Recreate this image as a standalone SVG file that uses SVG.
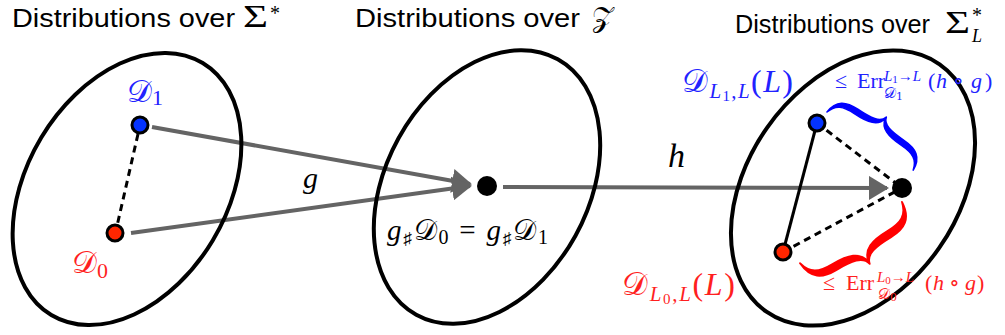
<svg xmlns="http://www.w3.org/2000/svg" width="1005" height="335" viewBox="0 0 1005 335">
<style>
.title{font-family:"Liberation Sans",Arial,sans-serif;font-size:26px;fill:#000}
.m{font-family:"Liberation Serif","DejaVu Serif","DejaVu Sans",serif}
.it{font-style:italic}
.cal{font-family:"DejaVu Serif","DejaVu Sans","Liberation Serif",serif;font-style:normal}
.ell{fill:none;stroke:#000;stroke-width:4}
.arrow{stroke:#646464;stroke-width:4;fill:none;marker-end:url(#ah)}
.dash{stroke:#000;stroke-width:3;stroke-dasharray:7 5;fill:none}
.solid{stroke:#000;stroke-width:3;fill:none}
.dot{stroke:#000;stroke-width:3}
.blue{fill:#2222ff}
.red{fill:#ff1f1f}
.brace{stroke-width:1.6;stroke-linejoin:round}
</style>
<defs>
<marker id="ah" markerUnits="userSpaceOnUse" markerWidth="20" markerHeight="24" viewBox="0 0 20 24" refX="18" refY="12" orient="auto">
<path d="M0,0 L20,12 L0,24 z" fill="#646464"/>
</marker>
<path id="bracepath" d="M0,0 C1,-15 10,-19.5 24,-19.5 C40,-19.5 50,-21 52,-29 C54,-21 64,-19.5 80,-19.5 C94,-19.5 103,-15 104,0 C101,-11 94,-14 80,-14 C64,-14 54,-17 52,-27 C50,-17 40,-14 24,-14 C10,-14 3,-11 0,0 Z"/>
</defs>

<g id="titles">
<text class="title" x="12" y="27" textLength="223" lengthAdjust="spacingAndGlyphs">Distributions over</text>
<text class="m" x="243" y="27" font-size="31" textLength="25" lengthAdjust="spacingAndGlyphs">Σ</text>
<text class="m" x="270" y="20" font-size="20">*</text>
<text class="title" x="355" y="27" textLength="225" lengthAdjust="spacingAndGlyphs">Distributions over</text>
<text class="m cal" x="592" y="27" font-size="28">𝒵</text>
<text class="title" x="735" y="33" textLength="195" lengthAdjust="spacingAndGlyphs">Distributions over</text>
<text class="m" x="945" y="33" font-size="31" textLength="25" lengthAdjust="spacingAndGlyphs">Σ</text>
<text class="m" font-size="20"><tspan x="972" y="22">*</tspan><tspan class="it" font-size="18" x="972" y="42">L</tspan></text>
</g>

<g id="connectors">
<line class="arrow" x1="152" y1="127" x2="470" y2="184"/>
<line class="arrow" x1="131" y1="233" x2="470" y2="186"/>
<line class="arrow" x1="503" y1="187" x2="887" y2="188"/>
<line class="dash" x1="138" y1="134" x2="117" y2="226"/>
<line class="solid" x1="817" y1="123" x2="783" y2="252"/>
<line class="dash" x1="817" y1="123" x2="902" y2="188"/>
<line class="dash" x1="783" y1="252" x2="902" y2="188"/>
</g>

<g id="space-sigma">
<ellipse class="ell" cx="127" cy="189" rx="100" ry="147" transform="rotate(31 127 189)"/>
</g>
<g id="space-z">
<ellipse class="ell" cx="487" cy="187" rx="101" ry="146" transform="rotate(29 487 187)"/>
</g>
<g id="space-sigma-L">
<ellipse class="ell" cx="853" cy="188" rx="105" ry="151" transform="rotate(35 853 188)"/>
</g>

<g id="node-D1">
<circle class="dot" cx="140" cy="125" r="8" fill="#0433ff"/>
<text class="m blue" x="127" y="102" font-size="31"><tspan class="cal">𝒟</tspan><tspan font-size="22" dy="3">1</tspan></text>
</g>
<g id="node-D0">
<circle class="dot" cx="115" cy="233" r="8" fill="#ff2600"/>
<text class="m red" x="72" y="273" font-size="31"><tspan class="cal">𝒟</tspan><tspan font-size="22" dy="5">0</tspan></text>
</g>

<g id="label-g">
<text class="m it" x="303" y="188" font-size="30">g</text>
</g>
<g id="label-h">
<text class="m it" x="668" y="167" font-size="34">h</text>
</g>

<g id="node-push">
<circle cx="487" cy="186" r="10" fill="#000"/>
<text class="m" x="387" y="240" font-size="29" textLength="161" lengthAdjust="spacing"><tspan class="it">g</tspan><tspan font-size="17" dy="4">♯</tspan><tspan class="cal" dy="-4">𝒟</tspan><tspan font-size="20" dy="4">0</tspan><tspan dy="-4"> = </tspan><tspan class="it">g</tspan><tspan font-size="17" dy="4">♯</tspan><tspan class="cal" dy="-4">𝒟</tspan><tspan font-size="20" dy="4">1</tspan></text>
</g>

<g id="node-target">
<circle cx="902" cy="188" r="10" fill="#000"/>
</g>

<g id="node-DL1">
<circle class="dot" cx="817" cy="123" r="8" fill="#0433ff"/>
<text class="m blue" x="682" y="92" font-size="32" textLength="111" lengthAdjust="spacing"><tspan class="cal">𝒟</tspan><tspan class="it" font-size="21" dy="6">L</tspan><tspan font-size="15" dy="3">1</tspan><tspan font-size="21" dy="-3">,</tspan><tspan class="it" font-size="21">L</tspan><tspan dy="-6">(</tspan><tspan class="it">L</tspan>)</text>
<use href="#bracepath" class="brace" fill="#0000ff" stroke="#0000ff" transform="translate(827,112) rotate(34)"/>
<text class="m blue" font-size="22"><tspan x="835" y="88">≤</tspan><tspan x="857" y="88">Err</tspan><tspan font-size="15" x="884" y="81"><tspan class="it">L</tspan><tspan font-size="11" dy="2">1</tspan><tspan dy="-2">→</tspan><tspan class="it">L</tspan></tspan><tspan class="cal" font-size="15" x="884" y="98">𝒟<tspan font-size="11" dy="2">1</tspan></tspan><tspan x="928" y="88">(</tspan><tspan class="it" x="936" y="88">h</tspan><tspan x="953" y="88">∘</tspan><tspan class="it" x="971" y="88">g</tspan><tspan x="985" y="88">)</tspan></text>
</g>

<g id="node-DL0">
<circle class="dot" cx="783" cy="252" r="8" fill="#ff2600"/>
<text class="m red" x="622" y="295" font-size="32" textLength="113" lengthAdjust="spacing"><tspan class="cal">𝒟</tspan><tspan class="it" font-size="21" dy="6">L</tspan><tspan font-size="15" dy="3">0</tspan><tspan font-size="21" dy="-3">,</tspan><tspan class="it" font-size="21">L</tspan><tspan dy="-6">(</tspan><tspan class="it">L</tspan>)</text>
<use href="#bracepath" class="brace" fill="#ff0000" stroke="#ff0000" transform="translate(902,202) rotate(149) scale(1.144,1.25)"/>
<text class="m red" font-size="22"><tspan x="823" y="290">≤</tspan><tspan x="846" y="290">Err</tspan><tspan font-size="15" x="877" y="282"><tspan class="it">L</tspan><tspan font-size="11" dy="2">0</tspan><tspan dy="-2">→</tspan><tspan class="it">L</tspan></tspan><tspan class="cal" font-size="15" x="878" y="299">𝒟<tspan font-size="11" dy="2">0</tspan></tspan><tspan x="925" y="290">(</tspan><tspan class="it" x="933" y="290">h</tspan><tspan x="949" y="290">∘</tspan><tspan class="it" x="965" y="290">g</tspan><tspan x="977" y="290">)</tspan></text>
</g>
</svg>
